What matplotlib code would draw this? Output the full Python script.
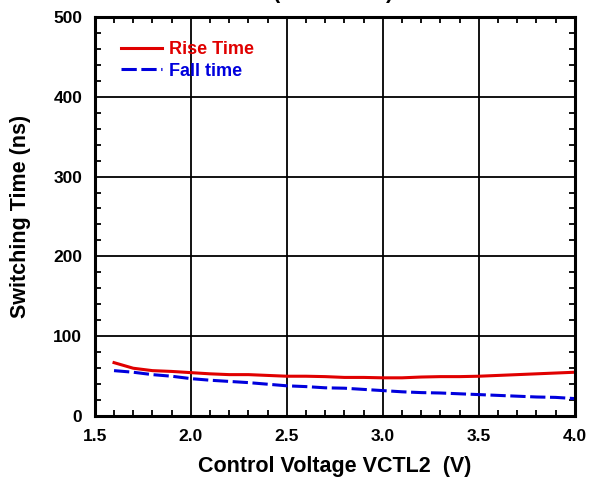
import matplotlib
matplotlib.use('Agg')
import matplotlib.pyplot as plt
from matplotlib.ticker import MultipleLocator

plt.rcParams['font.family'] = 'Liberation Sans'
plt.rcParams['font.weight'] = 'bold'

vctl = [1.6, 1.7, 1.8, 1.9, 2.0, 2.1, 2.2, 2.3, 2.4, 2.5, 2.6, 2.7, 2.8,
        2.9, 3.0, 3.1, 3.2, 3.3, 3.4, 3.5, 3.6, 3.7, 3.8, 3.9, 4.0]
rise = [67, 60, 57, 56, 54.5, 53, 52, 52, 51, 50, 50, 49.5, 48.5,
        48.5, 48, 48, 49, 49.5, 49.5, 50, 51, 52, 53, 54, 55]
fall = [57, 55, 52, 50, 47, 45, 43.5, 42, 40, 38, 37, 35.5, 35,
        33.5, 32, 30.5, 29.5, 29, 28, 27, 26, 25, 24, 23.5, 22]

fig = plt.figure(figsize=(5.89, 4.80), dpi=100)
ax = fig.add_axes([0.161, 0.133, 0.815, 0.832])

ax.plot(vctl, rise, color='#e00000', lw=2.2, label='Rise Time')
ax.plot(vctl, fall, color='#0000dd', lw=2.2, dashes=(5, 1.5), label='Fall time')

ax.set_xlim(1.5, 4.0)
ax.set_ylim(0, 500)
ax.xaxis.set_major_locator(MultipleLocator(0.5))
ax.xaxis.set_minor_locator(MultipleLocator(0.1))
ax.yaxis.set_major_locator(MultipleLocator(100))
ax.yaxis.set_minor_locator(MultipleLocator(20))
ax.xaxis.set_major_formatter(plt.FormatStrFormatter('%.1f'))
ax.grid(True, which='major', color='k', lw=1.3)
ax.tick_params(which='both', direction='in', top=True, right=True, labelsize=12.5)
ax.tick_params(which='major', length=0, pad=9)
ax.tick_params(which='minor', length=4, width=1.3)
for s in ax.spines.values():
    s.set_linewidth(2.2)

ax.set_xlabel('Control Voltage VCTL2  (V)', fontsize=15.5, fontweight='bold', labelpad=9)
ax.set_ylabel('Switching Time (ns)', fontsize=15.5, fontweight='bold', labelpad=16)

leg = ax.legend(loc='upper left', bbox_to_anchor=(0.02, 0.98), frameon=False,
                handlelength=2.3, handletextpad=0.4, labelspacing=0.25,
                prop={'weight': 'bold', 'size': 13})
for t, c in zip(leg.get_texts(), ['#e00000', '#0000dd']):
    t.set_color(c)

fig.text(0.567, 1 - 3 / 480, '(VCTL1=0V)', ha='center', va='bottom',
         fontsize=15.5, fontweight='bold')

fig.savefig('out.png', dpi=100)
